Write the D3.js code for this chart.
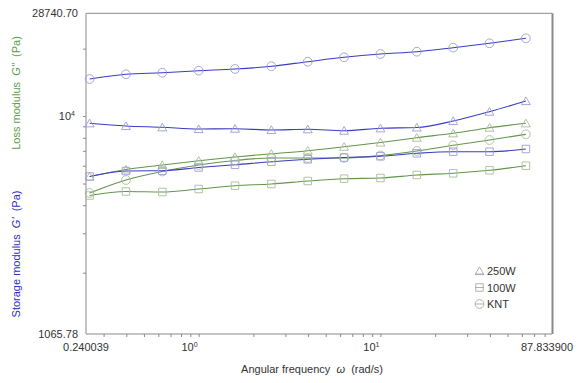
<!DOCTYPE html>
<html>
<head>
<meta charset="utf-8">
<script src="https://cdn.jsdelivr.net/npm/d3@7"></script>
<style>
  html, body { margin: 0; padding: 0; background: #fff; }
  svg { display: block; font-family: "Liberation Sans", Arial, sans-serif; }
</style>
</head>
<body>
<svg id="chart" width="579" height="383"></svg>
<script>
// Frequency sweep (rad/s)
const frequency = [0.2512, 0.3981, 0.6310, 1.000, 1.585, 2.512, 3.981, 6.310, 10.00, 15.85, 25.12, 39.81, 63.10];

// Storage modulus G' (Pa)
const storage250W = [9284, 9031, 8911, 8757, 8784, 8667, 8730, 8605, 8820, 8893, 9505, 10460, 11670];
const storage100W = [5375, 5687, 5705, 5895, 6061, 6257, 6413, 6533, 6614, 6821, 6934, 6934, 7129];
const storageKNT  = [14635, 15360, 15610, 15940, 16220, 16680, 17480, 18290, 18920, 19370, 20190, 21120, 22230];

// Loss modulus G'' (Pa)
const loss250W = [5375, 5776, 6048, 6321, 6567, 6786, 7006, 7300, 7622, 8007, 8377, 8875, 9284];
const loss100W = [4421, 4607, 4583, 4727, 4890, 4976, 5132, 5255, 5293, 5459, 5555, 5729, 6005];
const lossKNT  = [4536, 5185, 5658, 6048, 6334, 6500, 6500, 6500, 6669, 6985, 7406, 7820, 8291];

// Axis limits and tick labels
const xDomain = [0.240039, 87.8339];
const yDomain = [1065.78, 28740.70];
const xEndLabels = ["0.240039", "87.833900"];
const yEndLabels = ["1065.78", "28740.70"];
const xMajor = [1, 10];
const xMajorExp = ["0", "1"];
const yMajor = [10000];
const yMajorExp = ["4"];
const legendNames = ["250W", "100W", "KNT"];

const BLUE = "#3b3bc4", GREEN = "#62964a";
const BLUE_MK = "#9c9cd6", GREEN_MK = "#a9bc98";
const AXIS = "#8a8a8a", TEXT = "#333";

const m = { left: 86, top: 13.3, right: 552, bottom: 334 };
const svg = d3.select("#chart");

const x = d3.scaleLog().domain(xDomain).range([m.left, m.right]);
const y = d3.scaleLog().domain(yDomain).range([m.bottom, m.top]);

// Frame: top and right edges
svg.append("line").attr("x1", m.left).attr("x2", m.right).attr("y1", m.top).attr("y2", m.top)
  .attr("stroke", AXIS).attr("stroke-width", 1);
svg.append("line").attr("x1", m.right + 0.5).attr("x2", m.right + 0.5).attr("y1", m.top).attr("y2", m.bottom)
  .attr("stroke", AXIS).attr("stroke-width", 2);

// Bottom axis (log ticks, labels drawn separately)
const xTicks = x.ticks().filter(v => v >= xDomain[0] && v <= xDomain[1]);
const xAxis = d3.axisBottom(x).tickValues(xTicks).tickSize(3).tickFormat("");
const gx = svg.append("g").attr("transform", `translate(0,${m.bottom})`).call(xAxis);
gx.select(".domain").attr("stroke", AXIS).attr("d", `M${m.left},0H${m.right}`);
gx.selectAll(".tick line").attr("stroke", AXIS);

// Left axis
const yTicks = y.ticks().filter(v => v >= yDomain[0] && v <= yDomain[1]);
const yAxis = d3.axisLeft(y).tickValues(yTicks).tickSize(3).tickFormat("");
const gy = svg.append("g").attr("transform", `translate(${m.left},0)`).call(yAxis);
gy.select(".domain").attr("stroke", AXIS).attr("d", `M0,${m.bottom}V${m.top}`);
gy.selectAll(".tick line").attr("stroke", AXIS);

// Tick labels
const lab = svg.append("g").attr("fill", TEXT).attr("font-size", 11);
lab.append("text").attr("x", x(xDomain[0])).attr("y", 350.5).attr("text-anchor", "middle").text(xEndLabels[0]);
lab.append("text").attr("x", x(xDomain[1]) - 5).attr("y", 350.5).attr("text-anchor", "middle").text(xEndLabels[1]);
xMajor.forEach((v, i) => {
  const t = lab.append("text").attr("x", x(v) - 1).attr("y", 350.5).attr("text-anchor", "end");
  t.append("tspan").text("10");
  t.append("tspan").attr("dy", -4).attr("font-size", 7).text(xMajorExp[i]);
});
lab.append("text").attr("x", 78).attr("y", y(yDomain[0]) + 4).attr("text-anchor", "end").text(yEndLabels[0]);
lab.append("text").attr("x", 78).attr("y", y(yDomain[1]) + 4).attr("text-anchor", "end").text(yEndLabels[1]);
yMajor.forEach((v, i) => {
  const t = lab.append("text").attr("x", 75).attr("y", y(v) + 4).attr("text-anchor", "end");
  t.append("tspan").text("10");
  t.append("tspan").attr("dy", -4).attr("font-size", 7).text(yMajorExp[i]);
});

// Axis titles
const xt = svg.append("text").attr("x", 312).attr("y", 373).attr("text-anchor", "middle")
  .attr("font-size", 11).attr("fill", TEXT).attr("xml:space", "preserve");
xt.append("tspan").text("Angular frequency  ");
xt.append("tspan").attr("font-style", "italic").text("ω");
xt.append("tspan").text("  (rad/s)");

const lt = svg.append("text").attr("transform", "translate(20,93) rotate(-90)").attr("text-anchor", "middle")
  .attr("font-size", 11).attr("fill", "#5a9e46").attr("xml:space", "preserve");
lt.append("tspan").text("Loss modulus  ");
lt.append("tspan").attr("font-style", "italic").text("G''");
lt.append("tspan").text("  (Pa)");

const st = svg.append("text").attr("transform", "translate(20,254) rotate(-90)").attr("text-anchor", "middle")
  .attr("font-size", 11).attr("fill", "#2c2cc8").attr("xml:space", "preserve");
st.append("tspan").text("Storage modulus  ");
st.append("tspan").attr("font-style", "italic").text("G'");
st.append("tspan").text("  (Pa)");

// Marker shapes
const markerPath = {
  triangle: d3.symbol().type(d3.symbolTriangle).size(34)(),
  square: d3.symbol().type(d3.symbolSquare).size(56)(),
  circle: d3.symbol().type(d3.symbolCircle).size(60)()
};

const series = [
  { values: loss100W, color: GREEN, mk: GREEN_MK, shape: "square" },
  { values: lossKNT, color: GREEN, mk: GREEN_MK, shape: "circle" },
  { values: loss250W, color: GREEN, mk: GREEN_MK, shape: "triangle" },
  { values: storage100W, color: BLUE, mk: BLUE_MK, shape: "square" },
  { values: storage250W, color: BLUE, mk: BLUE_MK, shape: "triangle" },
  { values: storageKNT, color: BLUE, mk: BLUE_MK, shape: "circle" }
];

const line = d3.line().x(d => x(d[0])).y(d => y(d[1])).curve(d3.curveMonotoneX);

series.forEach(s => {
  const pts = frequency.map((f, i) => [f, s.values[i]]);
  svg.append("path").datum(pts).attr("d", line).attr("fill", "none")
    .attr("stroke", s.color).attr("stroke-width", 1.1);
});
series.forEach(s => {
  const pts = frequency.map((f, i) => [f, s.values[i]]);
  svg.append("g").selectAll("path").data(pts).join("path")
    .attr("transform", d => `translate(${x(d[0])},${y(d[1]) + (s.shape === "triangle" ? 1 : 0)})`)
    .attr("d", markerPath[s.shape]).attr("fill", "none")
    .attr("stroke", s.mk).attr("stroke-width", 0.9);
});

// Legend
const legendShapes = ["triangle", "square", "circle"];
const lg = svg.append("g");
legendNames.forEach((name, i) => {
  const cy = 271 + i * 16.5;
  lg.append("path").attr("transform", `translate(479.5,${cy + (i === 0 ? 1 : 0)})`)
    .attr("d", markerPath[legendShapes[i]]).attr("fill", "none").attr("stroke", "#a8a8a8").attr("stroke-width", 0.9);
  lg.append("line").attr("x1", 475).attr("x2", 484).attr("y1", cy + (i === 0 ? 3 : 0)).attr("y2", cy + (i === 0 ? 3 : 0))
    .attr("stroke", "#a8a8a8").attr("stroke-width", 0.9);
  lg.append("text").attr("x", 487).attr("y", cy + 4).attr("font-size", 11).attr("fill", TEXT).text(name);
});
</script>
</body>
</html>
